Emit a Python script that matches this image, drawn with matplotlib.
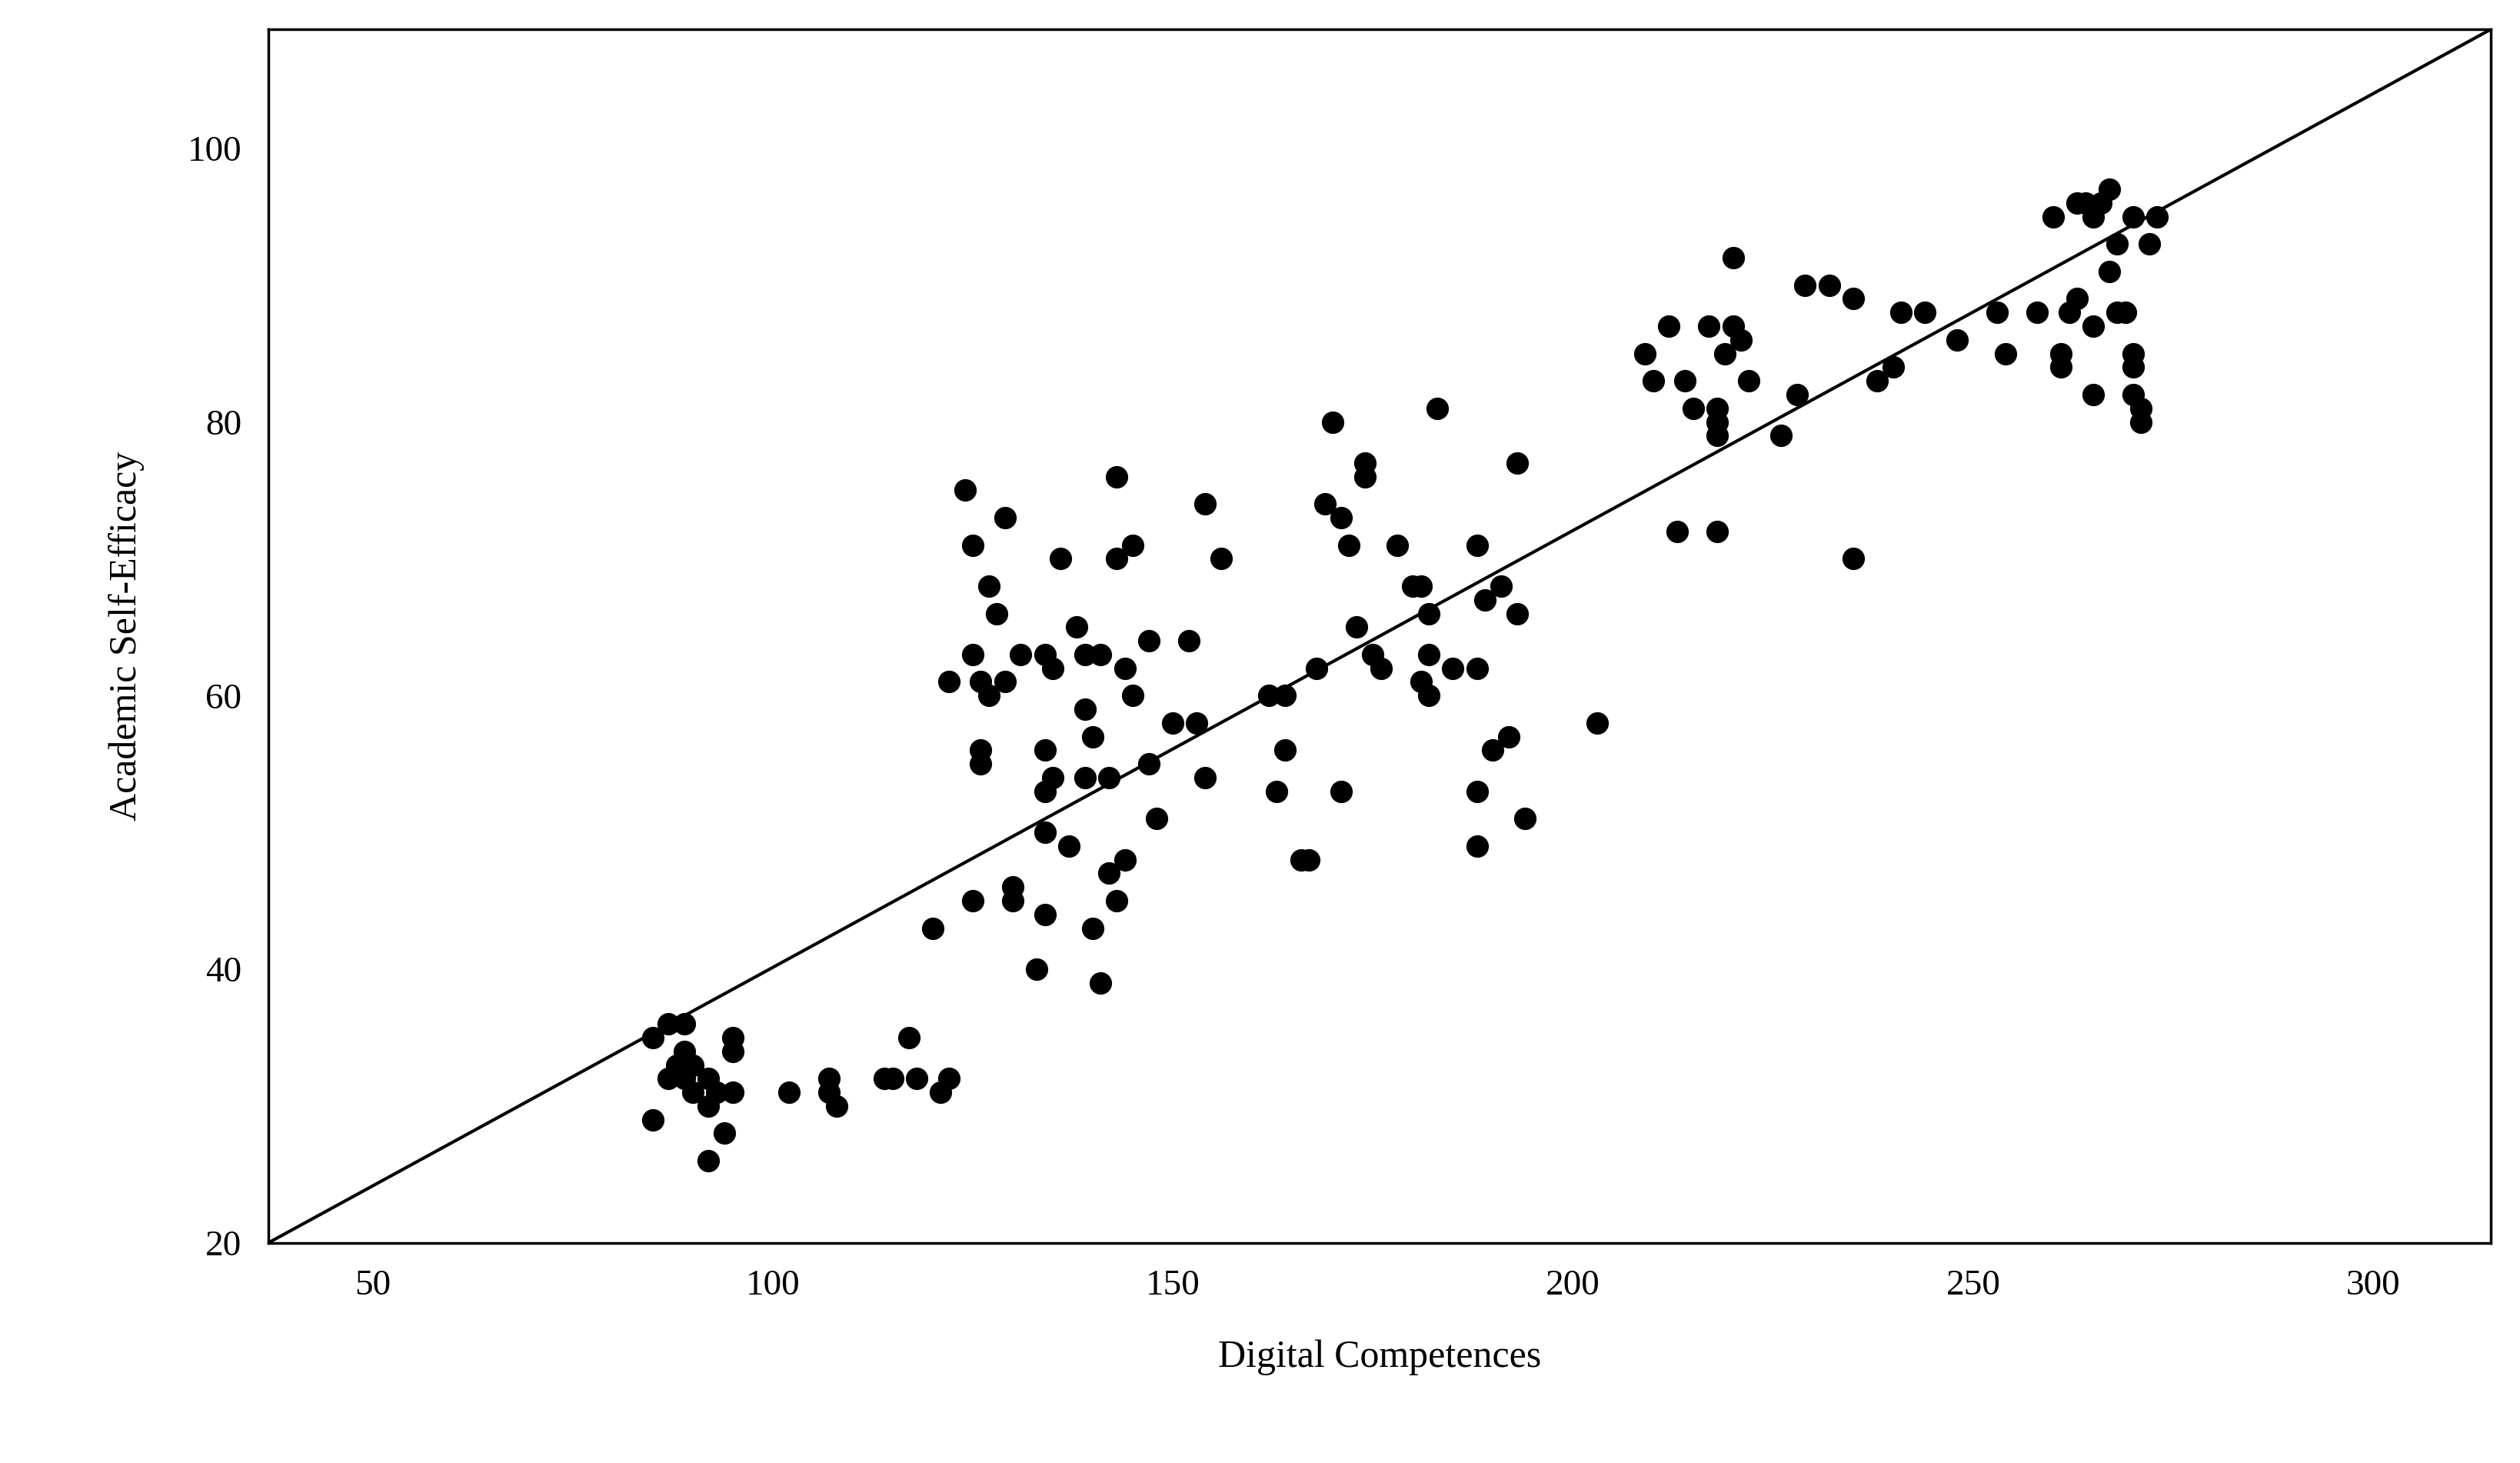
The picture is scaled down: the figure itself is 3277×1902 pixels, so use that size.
import matplotlib.pyplot as plt

# data
digital = [85, 85, 87, 89, 87, 88, 89, 90, 89, 90, 92, 92, 93, 92, 94, 95, 95, 95,
           102, 107, 107, 108, 114, 115, 117, 118, 121, 122,
           120, 122, 124, 125, 125, 125, 126, 126, 126, 127, 127, 128, 129, 129, 130, 130,
           131, 133, 134, 134, 134, 134, 134, 135, 135, 136, 137, 138, 139, 139, 139, 140,
           140, 141, 141, 142, 142, 143, 143, 143, 144, 144, 145, 145, 147, 147, 148, 150,
           152, 153, 154, 154, 156,
           162, 163, 164, 164, 166, 167, 168, 169, 170, 171, 171, 172, 173, 174, 174, 175,
           176, 178, 180, 181, 181, 182, 182, 182, 183, 185, 188, 188, 188, 188, 189, 190,
           191, 192, 193, 193, 194, 203,
           209, 210, 212, 213, 214, 215, 217, 218, 218, 218, 218, 219, 220, 220, 221, 222,
           226, 228, 229, 232, 235, 235, 238, 240, 241, 244, 248, 253, 254, 258, 260, 261,
           261, 262, 263, 263, 264, 265, 265, 265, 266, 267, 267, 268, 268, 269, 270, 270,
           270, 270, 271, 271, 272, 273]
efficacy = [29, 35, 36, 36, 32, 33, 34, 33, 32, 31, 32, 30, 31, 26, 28, 35, 34, 31,
            31, 32, 31, 30, 32, 32, 35, 32, 31, 32,
            43, 61, 75, 63, 71, 45, 56, 55, 61, 68, 60, 66, 73, 61, 46, 45,
            63, 40, 63, 56, 53, 50, 44, 62, 54, 70, 49, 65, 63, 59, 54, 57,
            43, 63, 39, 54, 47, 70, 76, 45, 62, 48, 71, 60, 64, 55, 51, 58,
            64, 58, 74, 54, 70,
            60, 53, 60, 56, 48, 48, 62, 74, 80, 73, 53, 71, 65, 77, 76, 63,
            62, 71, 68, 68, 61, 63, 60, 66, 81, 62, 71, 62, 53, 49, 67, 56,
            68, 57, 66, 77, 51, 58,
            85, 83, 87, 72, 83, 81, 87, 72, 81, 80, 79, 85, 92, 87, 86, 83,
            79, 82, 90, 90, 70, 89, 83, 84, 88, 88, 86, 88, 85, 88, 95, 85,
            84, 88, 96, 89, 96, 95, 87, 82, 96, 97, 91, 93, 88, 88, 95, 85,
            84, 82, 81, 80, 93, 95]

xlim = (37, 314.7)
ylim = (20, 108.7)

plt.rcParams['font.family'] = ['Liberation Serif', 'DejaVu Serif']
fig = plt.figure(figsize=(32.77, 19.02), dpi=100)
ax = fig.add_axes([0.1065, 0.1505, 0.882, 0.8295])

ax.plot(digital, efficacy, 'o', color='black', markersize=20)
ax.plot(xlim, ylim, color='black', linewidth=3)

ax.set_xlim(xlim)
ax.set_ylim(ylim)
ax.set_xticks([50, 100, 150, 200, 250, 300])
ax.set_yticks([20, 40, 60, 80, 100])
ax.tick_params(length=0, labelsize=34, pad=25)
for s in ax.spines.values():
    s.set_linewidth(2.5)
ax.set_xlabel("Digital Competences", fontsize=36, labelpad=35)
ax.set_ylabel("Academic Self-Efficacy", fontsize=36, labelpad=40)

fig.savefig("out.png", dpi=100)
